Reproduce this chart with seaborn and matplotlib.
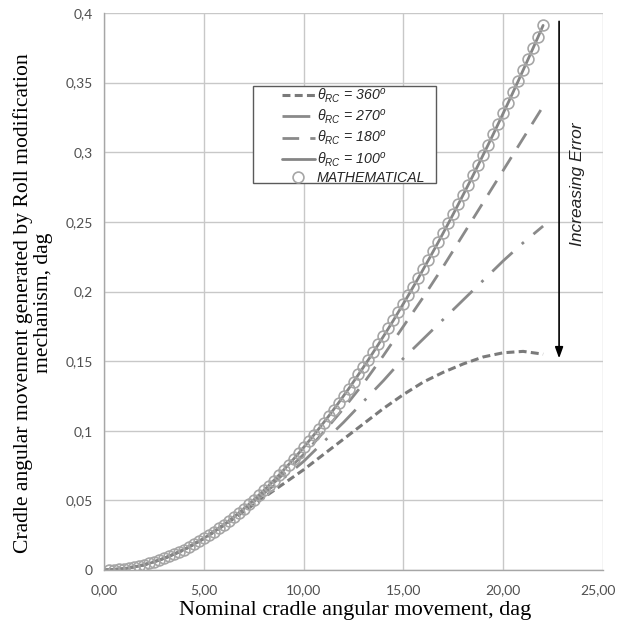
import matplotlib
matplotlib.use("Agg")
import matplotlib.pyplot as plt
import matplotlib.transforms as mtransforms
import seaborn as sns
import pandas as pd
from matplotlib.patches import Rectangle

# ---------------- data ----------------
x_curve = [0, 1, 2, 3, 4, 5, 6, 7, 8, 9, 10, 11, 12, 13, 14, 15, 16, 17, 18, 19, 20, 21, 22]
y_360 = [0, 0.0009, 0.0037, 0.0082, 0.0144, 0.0225, 0.0320, 0.0420, 0.0520, 0.0620, 0.0720,
         0.0830, 0.0940, 0.1050, 0.1160, 0.1260, 0.1350, 0.1420, 0.1480, 0.1530, 0.1560,
         0.1570, 0.1550]
y_270 = [0, 0.0009, 0.0037, 0.0083, 0.0146, 0.0228, 0.0323, 0.0430, 0.0550, 0.0660, 0.0780,
         0.0920, 0.1060, 0.1210, 0.1360, 0.1520, 0.1660, 0.1800, 0.1940, 0.2080, 0.2220,
         0.2350, 0.2470]
y_180 = [0, 0.0009, 0.0037, 0.0083, 0.0146, 0.0228, 0.0325, 0.0435, 0.0560, 0.0690, 0.0830,
         0.0990, 0.1160, 0.1340, 0.1540, 0.1750, 0.1960, 0.2180, 0.2410, 0.2640, 0.2870,
         0.3100, 0.3330]

x_math = [0.25, 0.5, 0.75, 1.0, 1.25, 1.5, 1.75, 2.0, 2.25, 2.5, 2.75, 3.0, 3.25, 3.5,
          3.75, 4.0, 4.25, 4.5, 4.75, 5.0, 5.25, 5.5, 5.75, 6.0, 6.25, 6.5, 6.75, 7.0,
          7.25, 7.5, 7.75, 8.0, 8.25, 8.5, 8.75, 9.0, 9.25, 9.5, 9.75, 10.0, 10.25, 10.5,
          10.75, 11.0, 11.25, 11.5, 11.75, 12.0, 12.25, 12.5, 12.75, 13.0, 13.25, 13.5,
          13.75, 14.0, 14.25, 14.5, 14.75, 15.0, 15.25, 15.5, 15.75, 16.0, 16.25, 16.5,
          16.75, 17.0, 17.25, 17.5, 17.75, 18.0, 18.25, 18.5, 18.75, 19.0, 19.25, 19.5,
          19.75, 20.0, 20.25, 20.5, 20.75, 21.0, 21.25, 21.5, 21.75, 22.0]
y_math = [0.0001, 0.0002, 0.0005, 0.0009, 0.0015, 0.0021, 0.0028, 0.0037, 0.0047, 0.0058,
          0.0070, 0.0083, 0.0097, 0.0113, 0.0129, 0.0147, 0.0165, 0.0185, 0.0206, 0.0228,
          0.0250, 0.0274, 0.0299, 0.0325, 0.0353, 0.0381, 0.0410, 0.0440, 0.0471, 0.0503,
          0.0537, 0.0571, 0.0606, 0.0642, 0.0679, 0.0718, 0.0757, 0.0797, 0.0838, 0.0880,
          0.0923, 0.0967, 0.1012, 0.1058, 0.1104, 0.1152, 0.1200, 0.1250, 0.1300, 0.1352,
          0.1404, 0.1457, 0.1511, 0.1566, 0.1621, 0.1678, 0.1735, 0.1793, 0.1853, 0.1913,
          0.1973, 0.2035, 0.2097, 0.2161, 0.2225, 0.2290, 0.2355, 0.2422, 0.2489, 0.2557,
          0.2626, 0.2696, 0.2766, 0.2837, 0.2909, 0.2982, 0.3055, 0.3129, 0.3204, 0.3280,
          0.3356, 0.3433, 0.3511, 0.3590, 0.3669, 0.3749, 0.3829, 0.3911]
y_100 = y_math  # the 100 deg curve coincides with the mathematical one

x_ticks = [0, 5, 10, 15, 20, 25]
x_ticklabels = ["0,00", "5,00", "10,00", "15,00", "20,00", "25,00"]
y_ticks = [0, 0.05, 0.1, 0.15, 0.2, 0.25, 0.3, 0.35, 0.4]
y_ticklabels = ["0", "0,05", "0,1", "0,15", "0,2", "0,25", "0,3", "0,35", "0,4"]

labels = [r"$\theta_{RC}$ = 360$^o$", r"$\theta_{RC}$ = 270$^o$",
          r"$\theta_{RC}$ = 180$^o$", r"$\theta_{RC}$ = 100$^o$", "MATHEMATICAL"]

# ---------------- style ----------------
sns.set_theme(style="white")
plt.rcParams["font.family"] = ["Liberation Sans", "DejaVu Sans"]
plt.rcParams["mathtext.fontset"] = "custom"
plt.rcParams["mathtext.it"] = "Liberation Sans:italic"
plt.rcParams["mathtext.rm"] = "Liberation Sans"

fig = plt.figure(figsize=(6.18, 6.30), dpi=100)
ax = fig.add_axes([104 / 618, 1 - 570 / 630, 499 / 618, 557 / 630])

df_c = pd.DataFrame({"x": x_curve, "y360": y_360, "y270": y_270, "y180": y_180})
df_m = pd.DataFrame({"x": x_math, "ym": y_math, "y100": y_100})

sns.lineplot(data=df_c, x="x", y="y360", ax=ax, color="#7a7a7a", lw=2.2,
             linestyle=(0, (2.6, 1.4)), label=labels[0])
sns.lineplot(data=df_c, x="x", y="y270", ax=ax, color="#8a8a8a", lw=2.0,
             linestyle=(0, (10, 4.5, 1, 4.5)), label=labels[1])
sns.lineplot(data=df_c, x="x", y="y180", ax=ax, color="#8a8a8a", lw=2.0,
             linestyle=(0, (6, 4)), label=labels[2])
sns.lineplot(data=df_m, x="x", y="y100", ax=ax, color="#858585", lw=2.0,
             label=labels[3])
sns.lineplot(data=df_m, x="x", y="ym", ax=ax, color="#a8a8a8", linestyle="",
             marker="o", markersize=7.8, markerfacecolor="none",
             markeredgecolor="#a6a6a6", markeredgewidth=1.2, label=labels[4])

ax.set_xlim(0, 25)
ax.set_ylim(0, 0.4)
ax.set_xticks(x_ticks)
ax.set_xticklabels(x_ticklabels)
ax.set_yticks(y_ticks)
ax.set_yticklabels(y_ticklabels)
for t in ax.get_xticklabels() + ax.get_yticklabels():
    t.set_family(["Lato", "DejaVu Sans"])
ax.tick_params(axis="both", direction="out", length=4, width=1, color="#a6a6a6",
               labelcolor="#505050", labelsize=10)
ax.tick_params(axis="x", pad=6)
ax.tick_params(axis="y", pad=4)
# keep the last x tick label inside the figure
last = ax.get_xticklabels()[-1]
last.set_transform(last.get_transform() +
                   mtransforms.ScaledTranslation(-5 / 100, 0, fig.dpi_scale_trans))

ax.grid(True, color="#c8c8c8", lw=1)
ax.set_axisbelow(True)
for s in ["top", "right"]:
    ax.spines[s].set_visible(False)
for s in ["left", "bottom"]:
    ax.spines[s].set_color("#a6a6a6")
    ax.spines[s].set_linewidth(1)

ax.set_xlabel("Nominal cradle angular movement, dag", family="Liberation Serif",
              fontsize=16, color="black")
ax.xaxis.set_label_coords(0.503, -0.055)
ax.set_ylabel("Cradle angular movement generated by Roll modification\nmechanism, dag",
              family="Liberation Serif", fontsize=15.6, color="black", linespacing=1.05)
ax.yaxis.set_label_coords(-0.102, 0.479)

# legend with a manual frame
ax.add_patch(Rectangle((0.2986, 0.6948), 0.3667, 0.1741, transform=ax.transAxes,
                       facecolor="white", edgecolor="#5a5a5a", lw=1, zorder=4))
leg = ax.legend(loc="upper left", bbox_to_anchor=(0.357, 0.868), frameon=False,
                borderpad=0, borderaxespad=0, handlelength=2.3, handletextpad=0.15,
                labelspacing=0.2, prop={"style": "italic", "size": 10.2})
leg.set_zorder(5)

# Increasing error arrow
ax.annotate("", xy=(22.8, 0.152), xytext=(22.8, 0.394),
            arrowprops=dict(arrowstyle="-|>,head_length=0.55,head_width=0.2",
                            color="black", lw=1.2, shrinkA=0, shrinkB=0),
            annotation_clip=False)
ax.text(23.7, 0.277, "Increasing Error", rotation=90, style="italic", fontsize=12.5,
        ha="center", va="center", color="#222222")

fig.savefig("out.png", dpi=100)
